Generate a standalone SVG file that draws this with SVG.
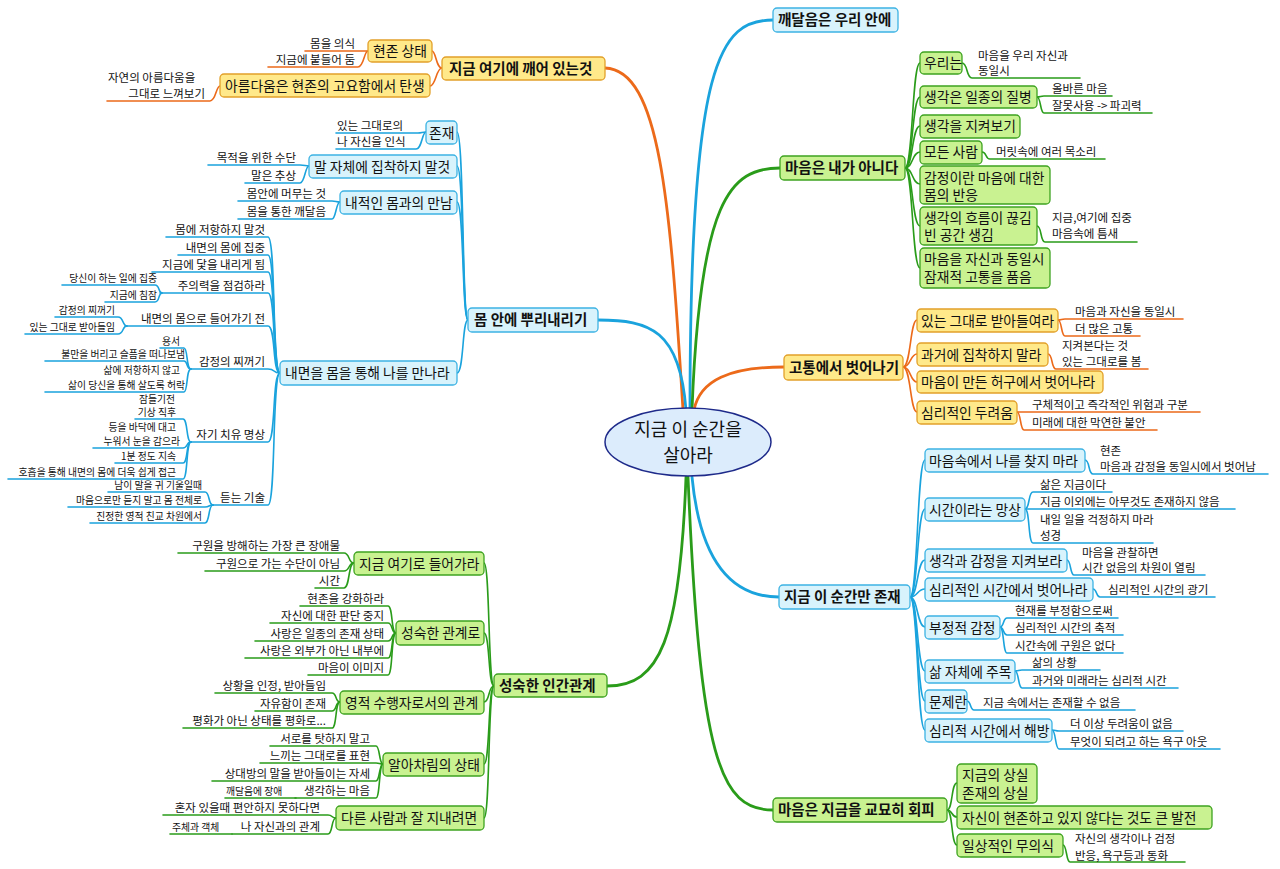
<svg xmlns="http://www.w3.org/2000/svg" width="1280" height="869" viewBox="0 0 1280 869">
<style>
text{font-family:"Noto Sans CJK KR","Noto Sans",sans-serif;fill:#111}
.m{font-size:14.5px;font-weight:bold}
.s{font-size:13.8px}
.l{font-size:11.5px}
.t{font-size:9.8px}
.e{text-anchor:end}
.bo{fill:#ffe98a;stroke:#e2a02a;stroke-width:1.3}
.bb{fill:#d8f3fc;stroke:#3db3e3;stroke-width:1.3}
.bg{fill:#c9f291;stroke:#3ea321;stroke-width:1.3}
path{fill:none;stroke-linecap:round}
.co{stroke:#ec6a1a;stroke-width:1.6}
.cb{stroke:#1aa3dd;stroke-width:1.6}
.cg{stroke:#2a9c1a;stroke-width:1.6}
.M{stroke-width:2.8}
</style>
<g id="connectors">
<path class="co M" d="M683,410 C670,200 660,70 605,68"/>
<path class="cb M" d="M686,410 C680,330 650,320 598,320"/>
<path class="cg M" d="M686,477 C680,640 660,686 607,686"/>
<path class="cb M" d="M690,410 C690,60 720,20 773,20"/>
<path class="cg M" d="M692,410 C700,200 730,168 780,168"/>
<path class="co M" d="M694,410 C700,380 730,367 784,367"/>
<path class="cb M" d="M692,477 C700,560 730,597 779,597"/>
<path class="cg M" d="M688,477 C700,760 720,810 773,810"/>
<path class="co" d="M442,68 C436,68 436,51 432,51"/>
<path class="co" d="M442,68 C436,68 436,86 430,86"/>
<path class="co" d="M305,51 H358 C364,51 364,51 368,51"/>
<path class="co" d="M268,67 H358 C364,67 364,51 368,51"/>
<path class="co" d="M107,101 H210 C216,101 216,86 220,86"/>
<path class="cb" d="M468,320 C462,320 464,132 457,132"/>
<path class="cb" d="M468,320 C462,320 464,166 457,166"/>
<path class="cb" d="M468,320 C462,320 464,202 457,202"/>
<path class="cb" d="M468,320 C462,320 464,373 457,373"/>
<path class="cb" d="M336,133 H418 C422,133 422,132 426,132"/>
<path class="cb" d="M336,149 H416 C422,149 422,132 426,132"/>
<path class="cb" d="M208,165 H300 C305,165 305,166 309,166"/>
<path class="cb" d="M245,183 H300 C305,183 305,166 309,166"/>
<path class="cb" d="M238,201 H332 C336,201 336,202 340,202"/>
<path class="cb" d="M238,219 H332 C336,219 336,202 340,202"/>
<path class="cb" d="M166,237 H268 C276,237 272,373 280,373"/>
<path class="cb" d="M178,255 H268 C276,255 272,373 280,373"/>
<path class="cb" d="M152,272 H268 C276,272 272,373 280,373"/>
<path class="cb" d="M160,293 H268 C276,293 272,373 280,373"/>
<path class="cb" d="M125,326 H268 C276,326 272,373 280,373"/>
<path class="cb" d="M190,369 H268 C276,369 272,373 280,373"/>
<path class="cb" d="M190,442 H268 C276,442 272,373 280,373"/>
<path class="cb" d="M212,505 H268 C276,505 272,373 280,373"/>
<path class="cb" d="M62,285 H155 C160,285 158,293 162,293"/>
<path class="cb" d="M105,302 H155 C160,302 158,293 162,293"/>
<path class="cb" d="M55,317 H118 C124,317 122,326 127,326"/>
<path class="cb" d="M25,334 H118 C124,334 122,326 127,326"/>
<path class="cb" d="M160,348 H184 C188,348 186,369 191,369"/>
<path class="cb" d="M45,361 H184 C188,361 186,369 191,369"/>
<path class="cb" d="M45,392 H184 C188,392 186,369 191,369"/>
<path class="cb" d="M135,419 H183 C188,419 186,442 191,442"/>
<path class="cb" d="M93,448 H183 C188,448 186,442 191,442"/>
<path class="cb" d="M115,463 H183 C188,463 186,442 191,442"/>
<path class="cb" d="M8,479 H183 C188,479 186,442 191,442"/>
<path class="cb" d="M108,492 H205 C210,492 208,505 213,505"/>
<path class="cb" d="M68,507 H205 C210,507 208,505 213,505"/>
<path class="cb" d="M90,523 H205 C210,523 208,505 213,505"/>
<path class="cg" d="M494,686 C488,686 490,563 484,563"/>
<path class="cg" d="M494,686 C488,686 490,633 484,633"/>
<path class="cg" d="M494,686 C488,686 490,702 484,702"/>
<path class="cg" d="M494,686 C488,686 490,764 484,764"/>
<path class="cg" d="M494,686 C488,686 490,818 484,818"/>
<path class="cg" d="M178,553 H344 C350,553 348,563 354,563"/>
<path class="cg" d="M205,571 H344 C350,571 348,563 354,563"/>
<path class="cg" d="M315,588 H344 C350,588 348,563 354,563"/>
<path class="cg" d="M300,606 H388 C393,606 391,633 396,633"/>
<path class="cg" d="M270,623 H388 C393,623 391,633 396,633"/>
<path class="cg" d="M255,641 H388 C393,641 391,633 396,633"/>
<path class="cg" d="M245,658 H388 C393,658 391,633 396,633"/>
<path class="cg" d="M308,675 H388 C393,675 391,633 396,633"/>
<path class="cg" d="M215,693 H332 C337,693 335,702 340,702"/>
<path class="cg" d="M255,711 H332 C337,711 335,702 340,702"/>
<path class="cg" d="M183,728 H332 C337,728 335,702 340,702"/>
<path class="cg" d="M270,746 H376 C380,746 379,764 383,764"/>
<path class="cg" d="M260,763 H376 C380,763 379,764 383,764"/>
<path class="cg" d="M212,781 H376 C380,781 379,764 383,764"/>
<path class="cg" d="M295,798 H376 C380,798 379,764 383,764"/>
<path class="cg" d="M225,798 H296"/>
<path class="cg" d="M163,815 H328 C333,815 331,818 336,818"/>
<path class="cg" d="M232,834 H328 C333,834 331,818 336,818"/>
<path class="cg" d="M170,834 H232"/>
<path class="cg" d="M905,168 C913,168 912,63 920,63"/>
<path class="cg" d="M905,168 C913,168 912,97 920,97"/>
<path class="cg" d="M905,168 C913,168 912,126 920,126"/>
<path class="cg" d="M905,168 C913,168 912,152 920,152"/>
<path class="cg" d="M905,168 C913,168 912,184 920,184"/>
<path class="cg" d="M905,168 C913,168 912,226 920,226"/>
<path class="cg" d="M905,168 C913,168 912,268 920,268"/>
<path class="cg" d="M962,63 C968,63 966,78 972,78 H1080"/>
<path class="cg" d="M1037,97 C1041,97 1040,96 1044,96 H1112"/>
<path class="cg" d="M1037,97 C1041,97 1040,113 1044,113 H1152"/>
<path class="cg" d="M982,152 C987,152 985,159 990,159 H1105"/>
<path class="cg" d="M1037,226 C1042,226 1040,242 1045,242 H1137"/>
<path class="co" d="M903,367 C911,367 910,320 917,320"/>
<path class="co" d="M903,367 C911,367 910,354 917,354"/>
<path class="co" d="M903,367 C911,367 910,382 917,382"/>
<path class="co" d="M903,367 C911,367 910,412 917,412"/>
<path class="co" d="M1058,320 C1062,320 1061,319 1065,319 H1183"/>
<path class="co" d="M1058,320 C1062,320 1061,336 1065,336 H1140"/>
<path class="co" d="M1048,354 C1053,354 1051,369 1056,369 H1148"/>
<path class="co" d="M1017,412 C1021,412 1020,412 1024,412 H1200"/>
<path class="co" d="M1017,412 C1021,412 1020,430 1024,430 H1157"/>
<path class="cb" d="M910,597 C918,597 917,460 925,460"/>
<path class="cb" d="M910,597 C918,597 917,509 925,509"/>
<path class="cb" d="M910,597 C918,597 917,560 925,560"/>
<path class="cb" d="M910,597 C918,597 917,589 925,589"/>
<path class="cb" d="M910,597 C918,597 917,627 925,627"/>
<path class="cb" d="M910,597 C918,597 917,671 925,671"/>
<path class="cb" d="M910,597 C918,597 917,701 925,701"/>
<path class="cb" d="M910,597 C918,597 917,730 925,730"/>
<path class="cb" d="M1085,460 C1090,460 1088,474 1093,474 H1268"/>
<path class="cb" d="M1025,509 C1030,509 1028,492 1033,492 H1112"/>
<path class="cb" d="M1025,509 C1030,509 1028,509 1033,509 H1235"/>
<path class="cb" d="M1025,509 C1030,509 1028,543 1033,543 H1153"/>
<path class="cb" d="M1067,560 C1071,560 1070,575 1074,575 H1205"/>
<path class="cb" d="M1093,589 C1097,589 1096,597 1100,597 H1215"/>
<path class="cb" d="M1000,627 C1004,627 1003,618 1007,618 H1118"/>
<path class="cb" d="M1000,627 C1004,627 1003,635 1007,635 H1123"/>
<path class="cb" d="M1000,627 C1004,627 1003,653 1007,653 H1123"/>
<path class="cb" d="M1015,671 C1019,671 1018,670 1022,670 H1100"/>
<path class="cb" d="M1015,671 C1019,671 1018,688 1022,688 H1178"/>
<path class="cb" d="M967,701 C971,701 970,710 974,710 H1135"/>
<path class="cb" d="M1052,730 C1056,730 1055,731 1059,731 H1183"/>
<path class="cb" d="M1052,730 C1056,730 1055,749 1059,749 H1220"/>
<path class="cg" d="M947,810 C953,810 951,783 957,783"/>
<path class="cg" d="M947,810 C953,810 951,817 957,817"/>
<path class="cg" d="M947,810 C953,810 951,845 957,845"/>
<path class="cg" d="M1063,845 C1067,845 1066,862 1070,862 H1185"/>
</g>

<g id="center"><ellipse cx="688" cy="442" rx="83" ry="34" fill="#dcecfc" stroke="#1e2a8a" stroke-width="1.5"/>
<text x="688" y="436" style="font-size:18px" text-anchor="middle">지금 이 순간을</text>
<text x="688" y="462" style="font-size:18px" text-anchor="middle">살아라</text></g>

<g id="n-awake"><rect class="bo" x="442" y="57" width="163" height="23" rx="4"/><text class="m" x="449" y="74">지금 여기에 깨어 있는것</text></g>
<g id="n-presence"><rect class="bo" x="368" y="40" width="64" height="22" rx="4"/><text class="s" x="373" y="56">현존 상태</text>
<text class="l e" x="355" y="48">몸을 의식</text><text class="l e" x="355" y="64">지금에 붙들어 둠</text></g>
<g id="n-beauty"><rect class="bo" x="220" y="74" width="210" height="23" rx="4"/><text class="s" x="225" y="91">아름다움은 현존의 고요함에서 탄생</text>
<text class="l" x="108" y="82">자연의 아름다움을</text><text class="l e" x="205" y="98">그대로 느껴보기</text></g>

<g id="n-root"><rect class="bb" x="468" y="308" width="130" height="24" rx="4"/><text class="m" x="474" y="325">몸 안에 뿌리내리기</text></g>
<g id="n-being"><rect class="bb" x="426" y="121" width="31" height="23" rx="4"/><text class="s" x="429" y="138">존재</text>
<text class="l" x="337" y="130">있는 그대로의</text><text class="l" x="337" y="146">나 자신을 인식</text></g>
<g id="n-words"><rect class="bb" x="309" y="155" width="148" height="23" rx="4"/><text class="s" x="314" y="172">말 자체에 집착하지 말것</text>
<text class="l e" x="296" y="162">목적을 위한 수단</text><text class="l e" x="296" y="180">말은 추상</text></g>
<g id="n-inner"><rect class="bb" x="340" y="191" width="117" height="23" rx="4"/><text class="s" x="345" y="208">내적인 몸과의 만남</text>
<text class="l e" x="326" y="198">몸안에 머무는 것</text><text class="l e" x="326" y="216">몸을 통한 깨달음</text></g>
<g id="n-meet"><rect class="bb" x="280" y="361" width="177" height="24" rx="4"/><text class="s" x="285" y="378">내면을 몸을 통해 나를 만나라</text>
<text class="l e" x="265" y="234">몸에 저항하지 말것</text>
<text class="l e" x="265" y="252">내면의 몸에 집중</text>
<text class="l e" x="265" y="269">지금에 닻을 내리게 됨</text>
<text class="l e" x="265" y="290">주의력을 점검하라</text>
<text class="t e" x="157" y="282">당신이 하는 일에 집중</text><text class="t e" x="157" y="299">지금에 침잠</text>
<text class="l e" x="265" y="323">내면의 몸으로 들어가기 전</text>
<text class="t e" x="115" y="314">감정의 찌꺼기</text><text class="t e" x="115" y="331">있는 그대로 받아들임</text>
<text class="l e" x="265" y="366">감정의 찌꺼기</text>
<text class="t e" x="180" y="345">용서</text><text class="t e" x="185" y="358">불만을 버리고 슬픔을 떠나보냄</text>
<text class="t e" x="180" y="374">삶에 저항하지 않고</text><text class="t e" x="185" y="389">삶이 당신을 통해 살도록 허락</text>
<text class="l e" x="265" y="439">자기 치유 명상</text>
<text class="t e" x="175" y="403">잠들기전</text><text class="t e" x="176" y="416">기상 직후</text>
<text class="t e" x="176" y="431">등을 바닥에 대고</text><text class="t e" x="180" y="445">누워서 눈을 감으라</text>
<text class="t e" x="176" y="460">1분 정도 지속</text><text class="t e" x="176" y="476">호흡을 통해 내면의 몸에 더욱 쉽게 접근</text>
<text class="l e" x="265" y="502">듣는 기술</text>
<text class="t e" x="202" y="489">남이 말을 귀 기울일때</text><text class="t e" x="202" y="504">마음으로만 듣지 말고 몸 전체로</text><text class="t e" x="202" y="520">진정한 영적 친교 차원에서</text></g>

<g id="n-rel"><rect class="bg" x="494" y="674" width="113" height="23" rx="4"/><text class="m" x="499" y="691">성숙한 인간관계</text></g>
<g id="n-enter"><rect class="bg" x="354" y="552" width="130" height="23" rx="4"/><text class="s" x="359" y="569">지금 여기로 들어가라</text>
<text class="l e" x="340" y="550">구원을 방해하는 가장 큰 장애물</text><text class="l e" x="340" y="568">구원으로 가는 수단이 아님</text><text class="l e" x="340" y="585">시간</text></g>
<g id="n-mature"><rect class="bg" x="396" y="621" width="88" height="24" rx="4"/><text class="s" x="401" y="638">성숙한 관계로</text>
<text class="l e" x="384" y="603">현존을 강화하라</text><text class="l e" x="384" y="620">자신에 대한 판단 중지</text><text class="l e" x="384" y="638">사랑은 일종의 존재 상태</text><text class="l e" x="384" y="655">사랑은 외부가 아닌 내부에</text><text class="l e" x="384" y="672">마음이 이미지</text></g>
<g id="n-spirit"><rect class="bg" x="340" y="691" width="144" height="23" rx="4"/><text class="s" x="345" y="708">영적 수행자로서의 관계</text>
<text class="l e" x="326" y="690">상황을 인정, 받아들임</text><text class="l e" x="326" y="708">자유함이 존재</text><text class="l e" x="326" y="725">평화가 아닌 상태를 평화로...</text></g>
<g id="n-aware"><rect class="bg" x="383" y="753" width="101" height="23" rx="4"/><text class="s" x="388" y="770">알아차림의 상태</text>
<text class="l e" x="370" y="743">서로를 탓하지 말고</text><text class="l e" x="370" y="760">느끼는 그대로를 표현</text><text class="l e" x="370" y="778">상대방의 말을 받아들이는 자세</text><text class="l e" x="370" y="795">생각하는 마음</text><text class="t" x="226" y="795">깨달음에 장애</text></g>
<g id="n-others"><rect class="bg" x="336" y="806" width="148" height="24" rx="4"/><text class="s" x="341" y="823">다른 사람과 잘 지내려면</text>
<text class="l e" x="320" y="812">혼자 있을때 편안하지 못하다면</text><text class="l e" x="320" y="831">나 자신과의 관계</text><text class="t" x="172" y="831">주체과 객체</text></g>

<g id="n-enlight"><rect class="bb" x="773" y="8" width="125" height="24" rx="4"/><text class="m" x="778" y="25">깨달음은 우리 안에</text></g>

<g id="n-mind"><rect class="bg" x="780" y="156" width="125" height="24" rx="4"/><text class="m" x="785" y="173">마음은 내가 아니다</text></g>
<g id="n-we"><rect class="bg" x="920" y="52" width="42" height="22" rx="4"/><text class="s" x="924" y="68">우리는</text>
<text class="l" x="978" y="60">마음을 우리 자신과</text><text class="l" x="978" y="75">동일시</text></g>
<g id="n-ill"><rect class="bg" x="920" y="86" width="117" height="22" rx="4"/><text class="s" x="924" y="102">생각은 일종의 질병</text>
<text class="l" x="1052" y="93">올바른 마음</text><text class="l" x="1052" y="110">잘못사용 -&gt; 파괴력</text></g>
<g id="n-watch"><rect class="bg" x="920" y="115" width="100" height="23" rx="4"/><text class="s" x="924" y="131">생각을 지켜보기</text></g>
<g id="n-all"><rect class="bg" x="920" y="141" width="62" height="23" rx="4"/><text class="s" x="924" y="157">모든 사람</text>
<text class="l" x="996" y="156">머릿속에 여러 목소리</text></g>
<g id="n-emo"><rect class="bg" x="920" y="166" width="130" height="38" rx="4"/><text class="s" x="924" y="183">감정이란 마음에 대한</text><text class="s" x="924" y="200">몸의 반응</text></g>
<g id="n-gap"><rect class="bg" x="920" y="207" width="117" height="38" rx="4"/><text class="s" x="924" y="223">생각의 흐름이 끊김</text><text class="s" x="924" y="240">빈 공간 생김</text>
<text class="l" x="1052" y="222">지금,여기에 집중</text><text class="l" x="1052" y="238">마음속에 틈새</text></g>
<g id="n-pain"><rect class="bg" x="920" y="248" width="130" height="40" rx="4"/><text class="s" x="924" y="264">마음을 자신과 동일시</text><text class="s" x="924" y="282">잠재적 고통을 품음</text></g>

<g id="n-suffer"><rect class="bo" x="784" y="355" width="119" height="25" rx="4"/><text class="m" x="789" y="373">고통에서 벗어나기</text></g>
<g id="n-accept"><rect class="bo" x="917" y="309" width="141" height="23" rx="4"/><text class="s" x="921" y="326">있는 그대로 받아들여라</text>
<text class="l" x="1075" y="316">마음과 자신을 동일시</text><text class="l" x="1075" y="333">더 많은 고통</text></g>
<g id="n-past"><rect class="bo" x="917" y="343" width="131" height="23" rx="4"/><text class="s" x="921" y="360">과거에 집착하지 말라</text>
<text class="l" x="1062" y="350">지켜본다는 것</text><text class="l" x="1062" y="366">있는 그대로를 봄</text></g>
<g id="n-fiction"><rect class="bo" x="917" y="371" width="186" height="22" rx="4"/><text class="s" x="921" y="387">마음이 만든 허구에서 벗어나라</text></g>
<g id="n-fear"><rect class="bo" x="917" y="401" width="100" height="23" rx="4"/><text class="s" x="921" y="418">심리적인 두려움</text>
<text class="l" x="1032" y="409">구체적이고 즉각적인 위험과 구분</text><text class="l" x="1032" y="427">미래에 대한 막연한 불안</text></g>

<g id="n-now"><rect class="bb" x="779" y="585" width="131" height="24" rx="4"/><text class="m" x="784" y="602">지금 이 순간만 존재</text></g>
<g id="n-self"><rect class="bb" x="925" y="449" width="160" height="23" rx="4"/><text class="s" x="929" y="466">마음속에서 나를 찾지 마라</text>
<text class="l" x="1100" y="455">현존</text><text class="l" x="1100" y="471">마음과 감정을 동일시에서 벗어남</text></g>
<g id="n-time"><rect class="bb" x="925" y="498" width="100" height="23" rx="4"/><text class="s" x="929" y="515">시간이라는 망상</text>
<text class="l" x="1040" y="489">삶은 지금이다</text><text class="l" x="1040" y="506">지금 이외에는 아무것도 존재하지 않음</text><text class="l" x="1040" y="524">내일 일을 걱정하지 마라</text><text class="l" x="1040" y="540">성경</text></g>
<g id="n-observe"><rect class="bb" x="925" y="549" width="142" height="23" rx="4"/><text class="s" x="929" y="566">생각과 감정을 지켜보라</text>
<text class="l" x="1082" y="557">마음을 관찰하면</text><text class="l" x="1082" y="572">시간 없음의 차원이 열림</text></g>
<g id="n-psy"><rect class="bb" x="925" y="578" width="168" height="23" rx="4"/><text class="s" x="929" y="595">심리적인 시간에서 벗어나라</text>
<text class="l" x="1108" y="594">심리적인 시간의 광기</text></g>
<g id="n-neg"><rect class="bb" x="925" y="616" width="75" height="23" rx="4"/><text class="s" x="929" y="633">부정적 감정</text>
<text class="l" x="1015" y="615">현재를 부정함으로써</text><text class="l" x="1015" y="632">심리적인 시간의 축적</text><text class="l" x="1015" y="650">시간속에 구원은 없다</text></g>
<g id="n-life"><rect class="bb" x="925" y="660" width="90" height="23" rx="4"/><text class="s" x="929" y="677">삶 자체에 주목</text>
<text class="l" x="1032" y="667">삶의 상황</text><text class="l" x="1032" y="685">과거와 미래라는 심리적 시간</text></g>
<g id="n-prob"><rect class="bb" x="925" y="690" width="42" height="23" rx="4"/><text class="s" x="929" y="707">문제란</text>
<text class="l" x="983" y="707">지금 속에서는 존재할 수 없음</text></g>
<g id="n-free"><rect class="bb" x="925" y="719" width="127" height="23" rx="4"/><text class="s" x="929" y="736">심리적 시간에서 해방</text>
<text class="l" x="1070" y="728">더 이상 두려움이 없음</text><text class="l" x="1070" y="746">무엇이 되려고 하는 욕구 아웃</text></g>

<g id="n-avoid"><rect class="bg" x="773" y="798" width="174" height="24" rx="4"/><text class="m" x="778" y="815">마음은 지금을 교묘히 회피</text></g>
<g id="n-loss"><rect class="bg" x="957" y="764" width="80" height="39" rx="4"/><text class="s" x="962" y="780">지금의 상실</text><text class="s" x="962" y="798">존재의 상실</text></g>
<g id="n-progress"><rect class="bg" x="957" y="806" width="255" height="23" rx="4"/><text class="s" x="962" y="823">자신이 현존하고 있지 않다는 것도 큰 발전</text></g>
<g id="n-uncon"><rect class="bg" x="957" y="834" width="106" height="23" rx="4"/><text class="s" x="962" y="851">일상적인 무의식</text>
<text class="l" x="1075" y="843">자신의 생각이나 검정</text><text class="l" x="1075" y="860">반응, 욕구등과 동화</text></g>
</svg>
